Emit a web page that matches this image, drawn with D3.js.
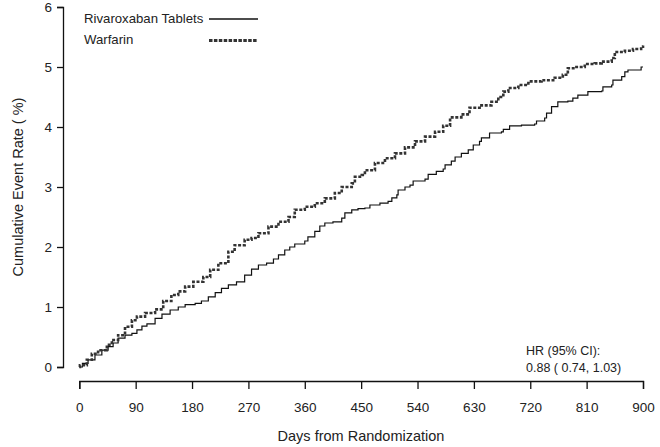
<!DOCTYPE html>
<html><head><meta charset="utf-8">
<script src="https://cdn.jsdelivr.net/npm/d3@7"></script>
<style>body{margin:0;background:#fff}svg text{font-family:"Liberation Sans",Arial,sans-serif;fill:#222}</style>
</head><body><svg id="c" width="660" height="447"></svg>
<script>
const xTicks=[0,90,180,270,360,450,540,630,720,810,900];
const yTicks=[0,1,2,3,4,5,6];
const seriesNames=["Rivaroxaban Tablets","Warfarin"];
const rivaDays=[0,5,14,25,36,46,54,62,73,84,92,100,108,121,132,145,158,169,185,195,206,217,227,238,251,264,275,286,299,310,318,328,336,344,360,365,376,384,392,405,419,424,435,445,456,464,480,493,499,507,509,520,528,533,552,557,570,581,584,594,600,610,621,629,639,642,655,674,677,687,706,727,730,743,746,754,764,780,788,796,812,834,836,850,852,866,871,876,897,900];
const rivaRate=[0,0.06,0.12,0.20,0.28,0.34,0.40,0.48,0.53,0.56,0.62,0.68,0.72,0.81,0.88,0.95,1.00,1.04,1.06,1.10,1.17,1.24,1.31,1.37,1.42,1.53,1.63,1.70,1.73,1.80,1.87,1.95,2.00,2.05,2.10,2.17,2.26,2.35,2.40,2.42,2.48,2.57,2.62,2.64,2.65,2.70,2.73,2.76,2.82,2.87,2.95,3.00,3.03,3.10,3.13,3.21,3.26,3.30,3.37,3.43,3.50,3.56,3.62,3.70,3.76,3.82,3.90,3.92,3.96,4.02,4.03,4.05,4.10,4.15,4.23,4.34,4.42,4.43,4.48,4.53,4.59,4.60,4.67,4.70,4.78,4.84,4.92,4.95,5.00,5.00];
const warfDays=[0,1,12,20,30,44,52,62,73,84,92,105,121,134,147,158,169,182,198,209,222,238,248,264,275,286,302,318,334,344,360,376,392,408,419,435,440,451,456,472,488,504,520,536,552,568,581,592,610,623,642,658,669,677,685,701,717,738,759,772,780,791,807,823,834,850,855,871,884,897,900];
const warfRate=[0,0.03,0.12,0.22,0.28,0.37,0.45,0.53,0.67,0.78,0.84,0.90,0.96,1.10,1.20,1.26,1.34,1.42,1.50,1.62,1.73,1.92,2.03,2.12,2.15,2.23,2.34,2.42,2.50,2.62,2.67,2.73,2.81,2.90,3.00,3.06,3.17,3.20,3.28,3.40,3.48,3.56,3.66,3.76,3.84,3.92,4.02,4.16,4.21,4.32,4.36,4.42,4.50,4.59,4.65,4.70,4.76,4.78,4.82,4.87,4.98,5.00,5.05,5.06,5.09,5.15,5.25,5.27,5.30,5.34,5.36];

const svg=d3.select("#c");
const x=d3.scaleLinear().domain([0,900]).range([79.3,643]);
const y=d3.scaleLinear().domain([0,6]).range([367,7]);

const ya=svg.append("g").attr("transform","translate(63,0)")
  .call(d3.axisLeft(y).tickValues(yTicks).tickSize(6).tickPadding(5).tickFormat(d3.format("d")));
const xa=svg.append("g").attr("transform","translate(0,381)")
  .call(d3.axisBottom(x).tickValues(xTicks).tickSize(8).tickPadding(13).tickFormat(d3.format("d")));
[ya,xa].forEach(a=>{a.select(".domain").attr("stroke","#111").attr("stroke-width",1.3);
  a.selectAll(".tick line").attr("stroke","#111").attr("stroke-width",1.3);
  a.selectAll("text").attr("font-size",13.5).attr("fill","#222");});

const line=d3.line().x(d=>x(d[0])).y(d=>y(d[1])).curve(d3.curveStepAfter);
svg.append("path").datum(rivaDays.map((d,i)=>[d,rivaRate[i]])).attr("d",line)
  .attr("fill","none").attr("stroke","#111").attr("stroke-width",1.2);
svg.append("path").datum(warfDays.map((d,i)=>[d,warfRate[i]])).attr("d",line)
  .attr("fill","none").attr("stroke","#333").attr("stroke-width",2.6).attr("stroke-dasharray","3,1.6");

svg.append("text").attr("x",84).attr("y",23).attr("font-size",13.2).text(seriesNames[0]);
svg.append("line").attr("x1",209).attr("x2",258).attr("y1",19).attr("y2",19).attr("stroke","#111").attr("stroke-width",1.3);
svg.append("text").attr("x",84).attr("y",44).attr("font-size",13.2).text(seriesNames[1]);
svg.append("line").attr("x1",209).attr("x2",258).attr("y1",40.5).attr("y2",40.5).attr("stroke","#333").attr("stroke-width",3).attr("stroke-dasharray","3.5,1.4");

svg.append("text").attr("x",526).attr("y",355).attr("font-size",12.5).text("HR (95% CI):");
svg.append("text").attr("x",526).attr("y",372).attr("font-size",12.5).text("0.88 ( 0.74, 1.03)");

svg.append("text").attr("x",361).attr("y",441).attr("text-anchor","middle").attr("font-size",14.5).text("Days from Randomization");
svg.append("text").attr("transform","translate(23,187) rotate(-90)").attr("text-anchor","middle").attr("font-size",14.5).text("Cumulative Event Rate ( %)");
</script></body></html>
